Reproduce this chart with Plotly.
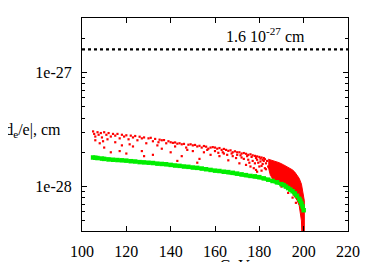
import plotly.graph_objects as go

Y_UNIT = 1e-28

# experimental bound
limit_x = [100, 220]
limit_y = [16.0, 16.0]   # in units of 1e-28 cm

# sparse red scan points (x in GeV, y in 1e-28 cm)
red_pts = [
    (105, 3.05), (105.5, 2.9), (106, 2.75), (106, 2.55), (107, 3.0), (107.5, 2.85), (108, 2.4),
    (108.5, 2.95), (109, 2.7), (110, 3.0), (110, 2.2), (111, 2.85), (111.5, 2.6), (112, 2.95),
    (113, 2.75), (113, 2.0), (114, 2.9), (115, 2.8), (115, 2.45), (116, 2.9), (117, 2.65),
    (118, 2.85), (118, 2.3), (119, 2.75), (120, 2.82), (120, 1.95), (121, 2.6), (122, 2.8),
    (123, 2.7), (123, 2.25), (124, 2.78), (125, 2.55), (126, 2.74), (127, 2.65), (127, 2.05),
    (128, 2.7), (129, 2.4), (130, 2.65), (131, 2.68), (132, 2.5), (132, 1.9), (133, 2.62),
    (134, 2.3), (135, 2.58), (136, 2.55), (136, 2.15), (137, 2.56), (138, 2.4), (139, 2.5),
    (140, 2.45), (140, 2.0), (141, 2.42), (142, 2.44), (142, 2.25), (143, 2.38), (144, 2.4),
    (145, 2.35), (145, 1.85), (146, 2.37), (147, 2.2), (148, 2.33), (149, 2.35), (150, 2.3),
    (150, 2.05), (151, 2.32), (152, 2.25), (153, 2.28), (153, 1.75), (154, 2.2), (155, 2.27),
    (155, 2.0), (156, 2.24), (157, 2.15), (158, 2.2), (158, 1.9), (159, 2.22), (160, 2.2),
    (160, 2.05), (161, 2.15), (162, 2.18), (162, 1.85), (163, 2.1), (164, 2.14), (164, 1.95),
    (165, 2.1), (166, 2.06), (166, 1.7), (167, 2.08), (168, 2.0), (168, 1.85), (169, 2.04),
    (170, 2.0), (170, 1.9), (171, 2.0), (171, 1.6), (172, 1.95), (172, 1.8), (173, 1.97),
    (173, 1.75), (174, 1.94), (174, 1.55), (175, 1.9), (175, 1.72), (176, 1.92), (176, 1.5),
    (177, 1.88), (177, 1.68), (178, 1.86), (178, 1.6), (178.5, 1.4), (179, 1.84), (179, 1.72),
    (180, 1.82), (180, 1.5), (180.5, 1.66), (181, 1.8), (181, 1.38), (181.5, 1.58), (182, 1.78),
    (182, 1.68), (182.5, 1.45), (183, 1.6), (184, 1.5), (143, 1.68), (128, 1.85), (117, 2.05),
    (152, 1.62), (186, 1.2), (190, 1.0), (193, 0.88), (195, 0.8), (196.5, 0.72),
    (109.5, 2.5), (121.5, 2.35), (134.5, 2.45), (147.5, 2.1), (156.5, 2.1), (163.5, 2.0),
    (167.5, 1.95), (169.5, 1.78), (174.5, 1.85), (176.5, 1.82), (179.5, 1.62), (181.5, 1.72),
    (178.5, 1.78), (180.5, 1.76), (182.5, 1.74), (181, 1.52), (183, 1.42), (183.5, 1.68),
    (179, 1.35), (177.5, 1.45), (175.5, 1.62), (171.5, 1.88), (165.5, 1.9), (161.5, 1.98),
]
red_x = [p[0] for p in red_pts]
red_y = [p[1] for p in red_pts]

# dense red region (upper edge, then lower edge going back)
band_x_upper = [184, 185, 187, 189, 191, 193, 195, 196, 197, 198, 199, 199.6, 200.3]
band_y_upper = [1.74, 1.72, 1.67, 1.62, 1.55, 1.48, 1.4, 1.34, 1.27, 1.18, 1.05, 0.92, 0.75]
band_x_lower = [200.3, 199.4, 199, 198.5, 198, 197, 196, 195, 193, 191, 189, 187, 185, 184]
band_y_lower = [0.3, 0.3, 0.5, 0.6, 0.68, 0.76, 0.82, 0.87, 0.95, 1.02, 1.07, 1.12, 1.25, 1.5]

# green curve points
green_x = [105, 106, 107, 109, 110, 112, 114, 116, 118, 120, 122, 124, 126, 128, 130, 132, 134,
           136, 138, 140, 142, 144, 146, 148, 150, 152, 154, 156, 158, 160, 162, 164, 166, 168,
           170, 172, 174, 176, 178, 180, 182, 184, 186, 188, 190, 191, 192, 193, 194, 195, 196,
           197, 198, 198.5, 199, 199.5, 200]
green_y = [1.8, 1.79, 1.78, 1.76, 1.75, 1.73, 1.72, 1.71, 1.7, 1.69, 1.67, 1.66, 1.64, 1.63,
           1.62, 1.61, 1.59, 1.58, 1.57, 1.55, 1.53, 1.52, 1.5, 1.49, 1.47, 1.46, 1.44, 1.42,
           1.4, 1.38, 1.37, 1.35, 1.34, 1.32, 1.3, 1.28, 1.26, 1.24, 1.23, 1.21, 1.18, 1.15,
           1.12, 1.09, 1.05, 1.03, 1.0, 0.97, 0.94, 0.91, 0.87, 0.83, 0.78, 0.75, 0.71, 0.67, 0.62]

x_ticks = [100, 120, 140, 160, 180, 200, 220]
y_tickvals = [1e-28, 1e-27]
y_ticktext = ["1e-28", "1e-27"]
y_minor = [m * 1e-29 for m in range(4, 10)] + [m * 1e-28 for m in range(2, 10)] + [m * 1e-27 for m in range(2, 4)]

FONT = "Liberation Serif, DejaVu Serif, serif"

fig = go.Figure()
fig.add_trace(go.Scatter(
    x=band_x_upper + band_x_lower,
    y=[v * Y_UNIT for v in band_y_upper + band_y_lower],
    mode="lines", fill="toself", fillcolor="#ff0000",
    line=dict(color="#ff0000", width=1), hoverinfo="skip", showlegend=False))
fig.add_trace(go.Scatter(
    x=red_x, y=[v * Y_UNIT for v in red_y], mode="markers",
    marker=dict(color="#ff0000", size=2.2, symbol="square", line=dict(width=0)),
    showlegend=False))
fig.add_trace(go.Scatter(
    x=green_x, y=[v * Y_UNIT for v in green_y], mode="markers+lines",
    line=dict(color="#00ee00", width=3.2),
    marker=dict(color="#00ee00", size=4.5, symbol="square", line=dict(width=0)),
    showlegend=False))
fig.add_trace(go.Scatter(
    x=limit_x, y=[v * Y_UNIT for v in limit_y], mode="lines",
    line=dict(color="black", width=2.2, dash="dot"), showlegend=False))

fig.add_annotation(x=183, y=-26.67, xref="x", yref="y",
                   text="1.6 10<sup>-27</sup> cm", showarrow=False,
                   font=dict(family=FONT, size=16, color="black"))
fig.add_annotation(x=-0.071, y=0.474, xref="paper", yref="paper", xanchor="right",
                   yanchor="middle", text="|d<sub>e</sub>/e|, cm", showarrow=False,
                   font=dict(family=FONT, size=16, color="black"))
fig.add_annotation(x=0.52, y=-0.115, xref="paper", yref="paper", xanchor="center",
                   yanchor="top", text="m<sub>H</sub>, GeV", showarrow=False,
                   font=dict(family=FONT, size=16, color="black"))

# page body has an 8px margin, so the figure is offset by (8, 8) in the window
fig.update_layout(
    width=374, height=262,
    margin=dict(l=74, r=34, t=10, b=39, autoexpand=False),
    paper_bgcolor="white", plot_bgcolor="white",
    font=dict(family=FONT, size=16, color="black"),
    xaxis=dict(range=[100, 220], tickvals=x_ticks, ticks="inside", ticklen=5,
               showline=True, linecolor="black", linewidth=1, mirror="ticks",
               showgrid=False, zeroline=False, tickcolor="black",
               ticklabelstandoff=6, automargin=False),
    yaxis=dict(type="log", range=[-28.39, -26.52], tickvals=y_tickvals, ticktext=y_ticktext,
               ticks="inside", ticklen=5, showline=True, linecolor="black", linewidth=1,
               mirror="ticks", showgrid=False, zeroline=False, tickcolor="black",
               ticklabelstandoff=6, automargin=False,
               minor=dict(tickvals=y_minor, ticks="inside", ticklen=3, tickcolor="black",
                          showgrid=False)),
)
fig.write_html("out.html")
